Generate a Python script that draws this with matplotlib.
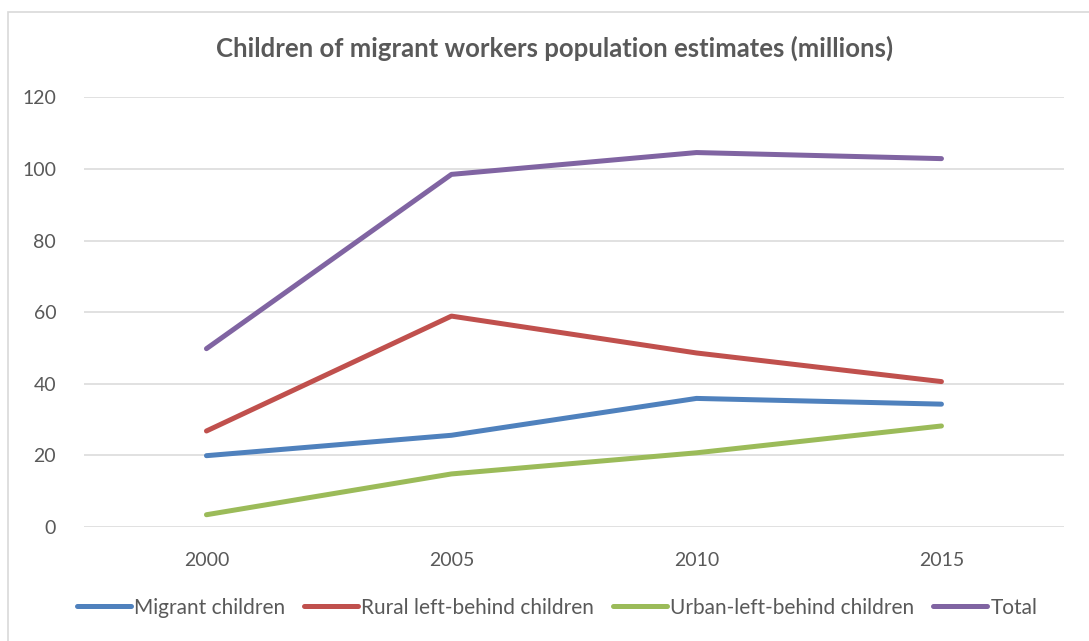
import numpy as np
import matplotlib.pyplot as plt

years = ['2000', '2005', '2010', '2015']
migrant = [19.9, 25.6, 35.9, 34.3]
rural = [26.8, 58.9, 48.6, 40.6]
urban = [3.4, 14.8, 20.7, 28.2]
total = [49.8, 98.5, 104.6, 102.9]

series = [
    ('Migrant children', migrant, '#4F81BD'),
    ('Rural left-behind children', rural, '#C0504D'),
    ('Urban-left-behind children', urban, '#9BBB59'),
    ('Total', total, '#8064A2'),
]

plt.rcParams['font.family'] = ['Lato', 'DejaVu Sans']
grey = '#595959'

fig = plt.figure(figsize=(10.89, 6.41), dpi=100)
ax = fig.add_axes([0.0771, 0.178, 0.8999, 0.670])

x = np.arange(len(years))
for name, vals, col in series:
    ax.plot(x, vals, color=col, lw=3.6, label=name,
            solid_capstyle='round', solid_joinstyle='round')

ax.set_xlim(-0.5, len(years) - 0.5)
ax.set_ylim(0, 120)
ax.set_yticks(range(0, 121, 20))
ax.set_xticks(x, years)
ax.grid(axis='y', color='#D9D9D9', lw=1.1)
ax.set_axisbelow(True)
for s in ax.spines.values():
    s.set_visible(False)
ax.tick_params(length=0, labelsize=14, colors=grey)
ax.tick_params(axis='x', pad=18)
ax.tick_params(axis='y', pad=20)

fig.text(0.509, 0.925, 'Children of migrant workers population estimates (millions)',
         ha='center', va='center', fontsize=18.5, fontweight='bold', color=grey)

ax.legend(loc='center', bbox_to_anchor=(0.483, -0.188), ncol=4, frameon=False,
          fontsize=15, labelcolor=grey, handlelength=2.6, handletextpad=0.15,
          columnspacing=0.9)

# light frame around the whole chart
frame = plt.Rectangle((0.007, -0.01), 1.2, 0.992, transform=fig.transFigure,
                      fill=False, ec='#D9D9D9', lw=1.2)
fig.add_artist(frame)

fig.savefig('out.png', dpi=100, facecolor='white')
